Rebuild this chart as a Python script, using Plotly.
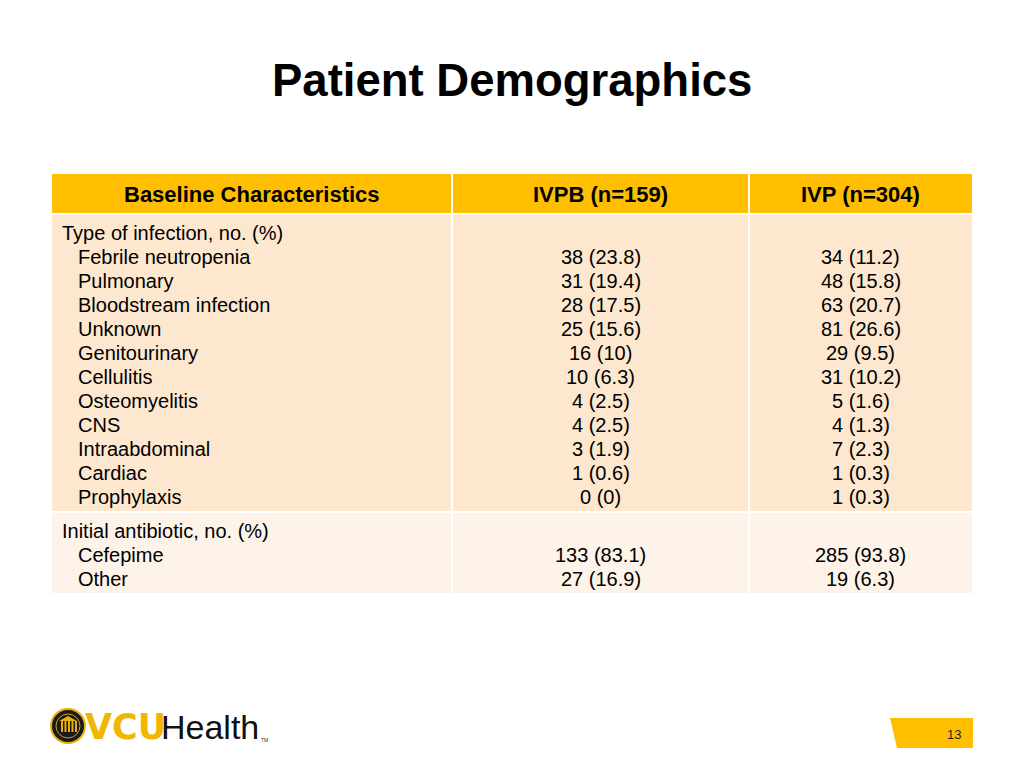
import plotly.graph_objects as go

# ---------------- data ----------------
title_text = "Patient Demographics"
header_labels = ["Baseline Characteristics", "IVPB (n=159)", "IVP (n=304)"]

group_titles = ["Type of infection, no. (%)", "Initial antibiotic, no. (%)"]

infection_types = ["Febrile neutropenia", "Pulmonary", "Bloodstream infection", "Unknown",
                   "Genitourinary", "Cellulitis", "Osteomyelitis", "CNS",
                   "Intraabdominal", "Cardiac", "Prophylaxis"]
infection_ivpb_n = [38, 31, 28, 25, 16, 10, 4, 4, 3, 1, 0]
infection_ivpb_pct = [23.8, 19.4, 17.5, 15.6, 10, 6.3, 2.5, 2.5, 1.9, 0.6, 0]
infection_ivp_n = [34, 48, 63, 81, 29, 31, 5, 4, 7, 1, 1]
infection_ivp_pct = [11.2, 15.8, 20.7, 26.6, 9.5, 10.2, 1.6, 1.3, 2.3, 0.3, 0.3]

antibiotics = ["Cefepime", "Other"]
antibiotic_ivpb_n = [133, 27]
antibiotic_ivpb_pct = [83.1, 16.9]
antibiotic_ivp_n = [285, 19]
antibiotic_ivp_pct = [93.8, 6.3]

page_number = "13"

# ---------------- style ----------------
FONT = "Liberation Sans, Arial, sans-serif"
GOLD = "#FFBF00"
BAND = ["#FDE8CF", "#FEF3E8"]
col_edges = [52, 452, 749, 972]
header_top, header_bot = 174, 213
line_h = 24
gap = 2

fig = go.Figure()
shapes = []
annotations = []


def fmt(n, p):
    return f"{n} ({p:g})"


def rect(x0, y0, x1, y1, color):
    shapes.append(dict(type="rect", xref="x", yref="y", x0=x0, x1=x1, y0=y0, y1=y1,
                       fillcolor=color, line=dict(width=0), layer="below"))


def text(x, y, s, size=20, bold=False, anchor="left", color="black"):
    annotations.append(dict(x=x, y=y, xref="x", yref="y", text=(f"<b>{s}</b>" if bold else s),
                            showarrow=False, xanchor=anchor, yanchor="middle",
                            font=dict(family=FONT, size=size, color=color)))


# title
text(512, 80, title_text, size=45.5, bold=True, anchor="center")

# header
for i, lab in enumerate(header_labels):
    x0 = col_edges[i] + (gap / 2 if i > 0 else 0)
    x1 = col_edges[i + 1] - (gap / 2 if i < 2 else 0)
    rect(x0, header_top, x1, header_bot, GOLD)
    text((col_edges[i] + col_edges[i + 1]) / 2, (header_top + header_bot) / 2 + 1, lab,
         size=22, bold=True, anchor="center")

# groups
groups = [
    (group_titles[0], infection_types,
     [fmt(n, p) for n, p in zip(infection_ivpb_n, infection_ivpb_pct)],
     [fmt(n, p) for n, p in zip(infection_ivp_n, infection_ivp_pct)]),
    (group_titles[1], antibiotics,
     [fmt(n, p) for n, p in zip(antibiotic_ivpb_n, antibiotic_ivpb_pct)],
     [fmt(n, p) for n, p in zip(antibiotic_ivp_n, antibiotic_ivp_pct)]),
]

top = header_bot + gap
for gi, (gtitle, labels, c2, c3) in enumerate(groups):
    nlines = len(labels) + 1
    bottom = top + nlines * line_h + 8
    for i in range(3):
        x0 = col_edges[i] + (gap / 2 if i > 0 else 0)
        x1 = col_edges[i + 1] - (gap / 2 if i < 2 else 0)
        rect(x0, top, x1, bottom, BAND[gi])
    y = top + 18
    text(60, y, gtitle)
    for lab, v2, v3 in zip(labels, c2, c3):
        y += line_h
        text(76, y, lab)
        text((col_edges[1] + col_edges[2]) / 2, y, v2, anchor="center")
        text((col_edges[2] + col_edges[3]) / 2, y, v3, anchor="center")
    top = bottom + gap

# logo: seal
shapes.append(dict(type="circle", xref="x", yref="y", x0=51, x1=85, y0=709, y1=743,
                   fillcolor="#1a1a1a", line=dict(color="#E8B00F", width=2)))
shapes.append(dict(type="circle", xref="x", yref="y", x0=56, x1=80, y0=714, y1=738,
                   fillcolor="rgba(0,0,0,0)", line=dict(color="#C9A227", width=1)))
for k in range(5):
    cx = 61 + k * 3.5
    shapes.append(dict(type="rect", xref="x", yref="y", x0=cx, x1=cx + 2, y0=721, y1=732,
                       fillcolor="#E8B00F", line=dict(width=0)))
shapes.append(dict(type="path", xref="x", yref="y", path="M 59 721 L 68 716 L 77 721 Z",
                   fillcolor="#E8B00F", line=dict(width=0)))
annotations.append(dict(x=83, y=727, xref="x", yref="y", text="<b>VCU</b>", showarrow=False,
                        xanchor="left", yanchor="middle",
                        font=dict(family="DejaVu Sans, sans-serif", size=35, color="#F2B500")))
annotations.append(dict(x=159, y=727, xref="x", yref="y", text="Health", showarrow=False,
                        xanchor="left", yanchor="middle",
                        font=dict(family=FONT, size=34, color="#111111")))
annotations.append(dict(x=259, y=740, xref="x", yref="y", text="TM", showarrow=False,
                        xanchor="left", yanchor="middle",
                        font=dict(family=FONT, size=5, color="#333333")))

# page number tab
shapes.append(dict(type="path", xref="x", yref="y",
                   path="M 890 718 L 973 718 L 973 748 L 897 748 Z",
                   fillcolor=GOLD, line=dict(width=0)))
text(963, 734, page_number, size=13, anchor="right", color="#222222")

fig.update_layout(
    width=1024, height=768,
    margin=dict(l=0, r=0, t=0, b=0),
    paper_bgcolor="white", plot_bgcolor="white",
    xaxis=dict(range=[0, 1024], visible=False, fixedrange=True),
    yaxis=dict(range=[768, 0], visible=False, fixedrange=True),
    shapes=shapes, annotations=annotations,
    showlegend=False,
)

fig.write_html("out.html", config={"displayModeBar": False},
               post_script="document.body.style.margin='0';document.body.style.overflow='hidden';")
